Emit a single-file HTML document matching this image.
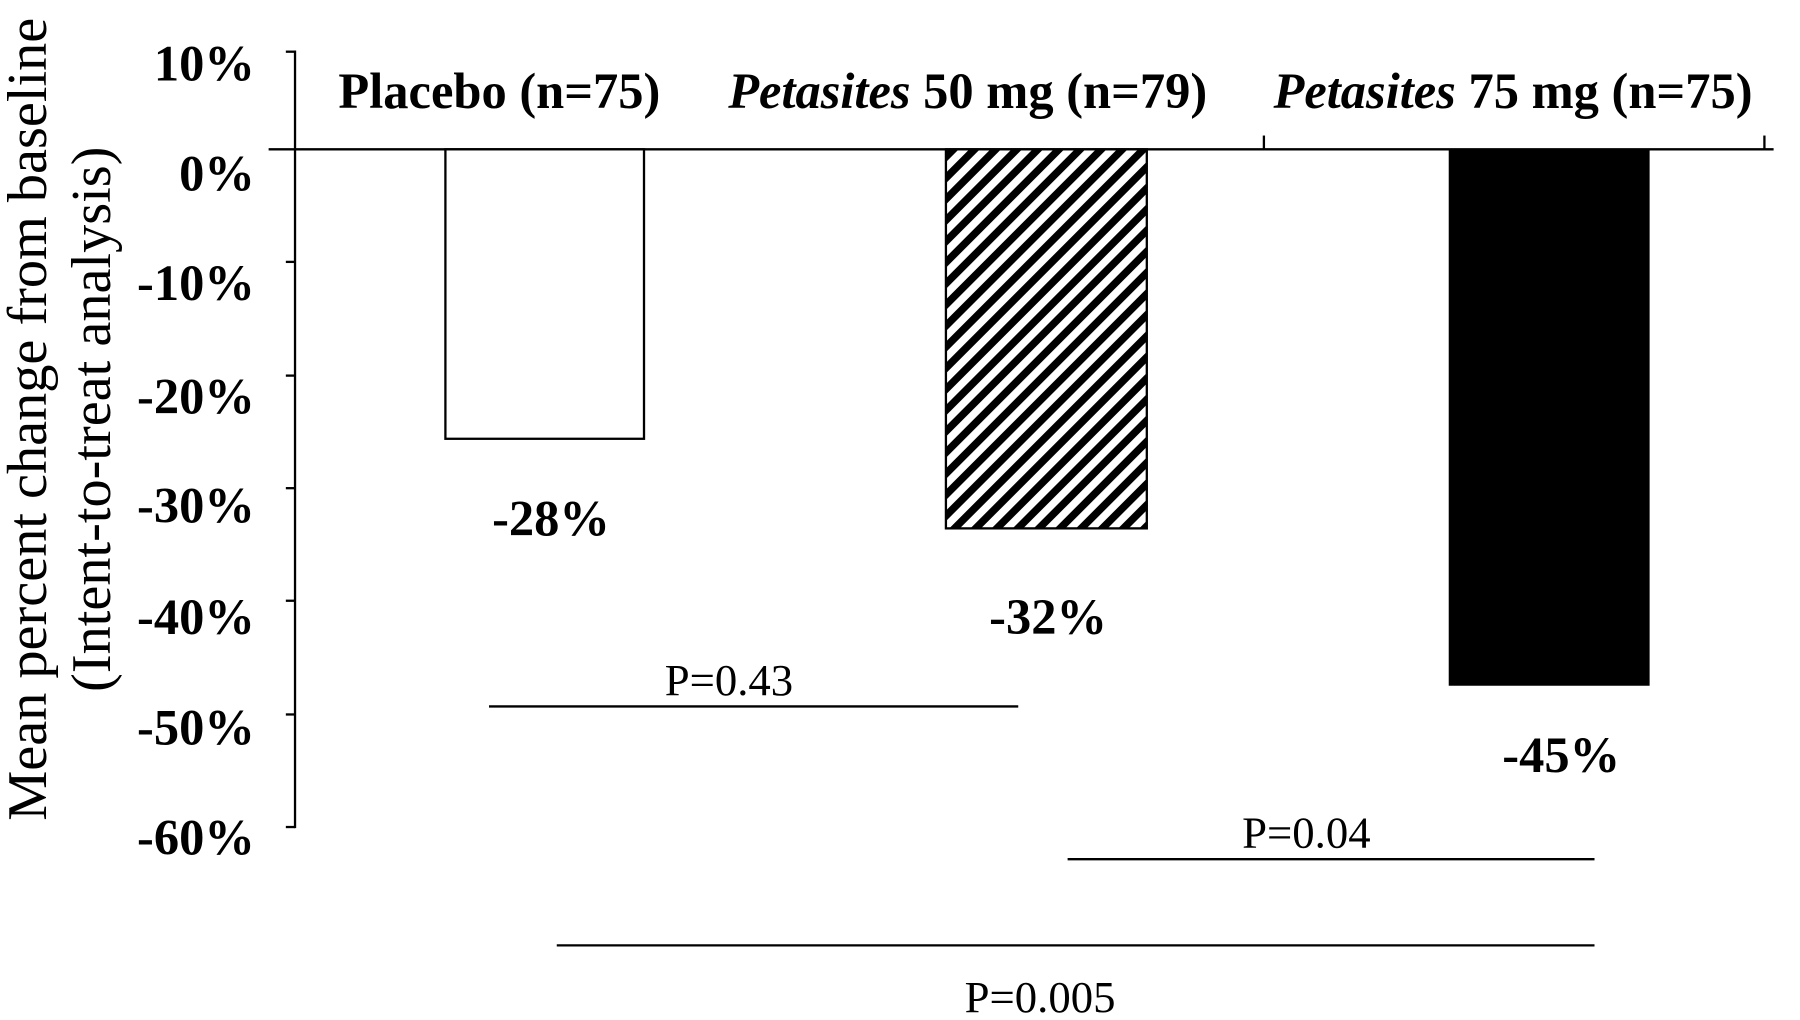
<!DOCTYPE html>
<html><head><meta charset="utf-8"><style>html,body{margin:0;padding:0;background:#fff}svg{display:block}</style></head>
<body>
<svg width="1800" height="1020" viewBox="0 0 1568 888" preserveAspectRatio="none" xmlns="http://www.w3.org/2000/svg">
<defs>
<pattern id="h" patternUnits="userSpaceOnUse" width="13" height="13" patternTransform="rotate(45)">
<rect width="13" height="13" fill="#fff"/><rect width="6.5" height="13" fill="#000"/>
</pattern>
</defs>
<rect width="1568" height="888" fill="#fff"/>
<g stroke="#000" stroke-width="2" fill="none">
<line x1="257" y1="44" x2="257" y2="721"/>
<line x1="234" y1="130" x2="1545" y2="130"/>
<line x1="1101" y1="118" x2="1101" y2="130"/>
<line x1="1537" y1="118" x2="1537" y2="130"/>
<line x1="249" y1="45" x2="257" y2="45"/>
<line x1="249" y1="228" x2="257" y2="228"/>
<line x1="249" y1="327" x2="257" y2="327"/>
<line x1="249" y1="425" x2="257" y2="425"/>
<line x1="249" y1="523" x2="257" y2="523"/>
<line x1="249" y1="622" x2="257" y2="622"/>
<line x1="249" y1="720" x2="257" y2="720"/>
<line x1="426" y1="615" x2="887" y2="615"/>
<line x1="930" y1="748" x2="1389" y2="748"/>
<line x1="485" y1="823" x2="1389" y2="823"/>
</g>
<rect x="388" y="130" width="173" height="252" fill="#fff" stroke="#000" stroke-width="2"/>
<rect x="824" y="130" width="175" height="330" fill="url(#h)" stroke="#000" stroke-width="2"/>
<rect x="1262" y="130" width="175" height="467" fill="#000"/>
<g font-family="Liberation Serif, serif" font-weight="bold" font-size="44" text-anchor="end">
<text x="222" y="70">10%</text>
<text x="222" y="166">0%</text>
<text x="222" y="261">-10%</text>
<text x="222" y="360">-20%</text>
<text x="222" y="455">-30%</text>
<text x="222" y="552">-40%</text>
<text x="222" y="648">-50%</text>
<text x="222" y="744">-60%</text>
</g>
<g font-family="Liberation Serif, serif" font-weight="bold" font-size="44" text-anchor="middle">
<text x="435" y="94">Placebo (n=75)</text>
<text x="843" y="94"><tspan font-style="italic">Petasites</tspan> 50 mg (n=79)</text>
<text x="1318" y="94"><tspan font-style="italic">Petasites</tspan> 75 mg (n=75)</text>
<text x="480" y="466">-28%</text>
<text x="913" y="552">-32%</text>
<text x="1360" y="672">-45%</text>
</g>
<g font-family="Liberation Serif, serif" font-size="39" text-anchor="middle">
<text x="635" y="605">P=0.43</text>
<text x="1138" y="738">P=0.04</text>
<text x="906" y="881">P=0.005</text>
</g>
<g font-family="Liberation Serif, serif" font-size="49" text-anchor="middle">
<text transform="translate(40,365) rotate(-90)">Mean percent change from baseline</text>
<text transform="translate(96,365) rotate(-90)">(Intent-to-treat analysis)</text>
</g>
</svg>
</body></html>
